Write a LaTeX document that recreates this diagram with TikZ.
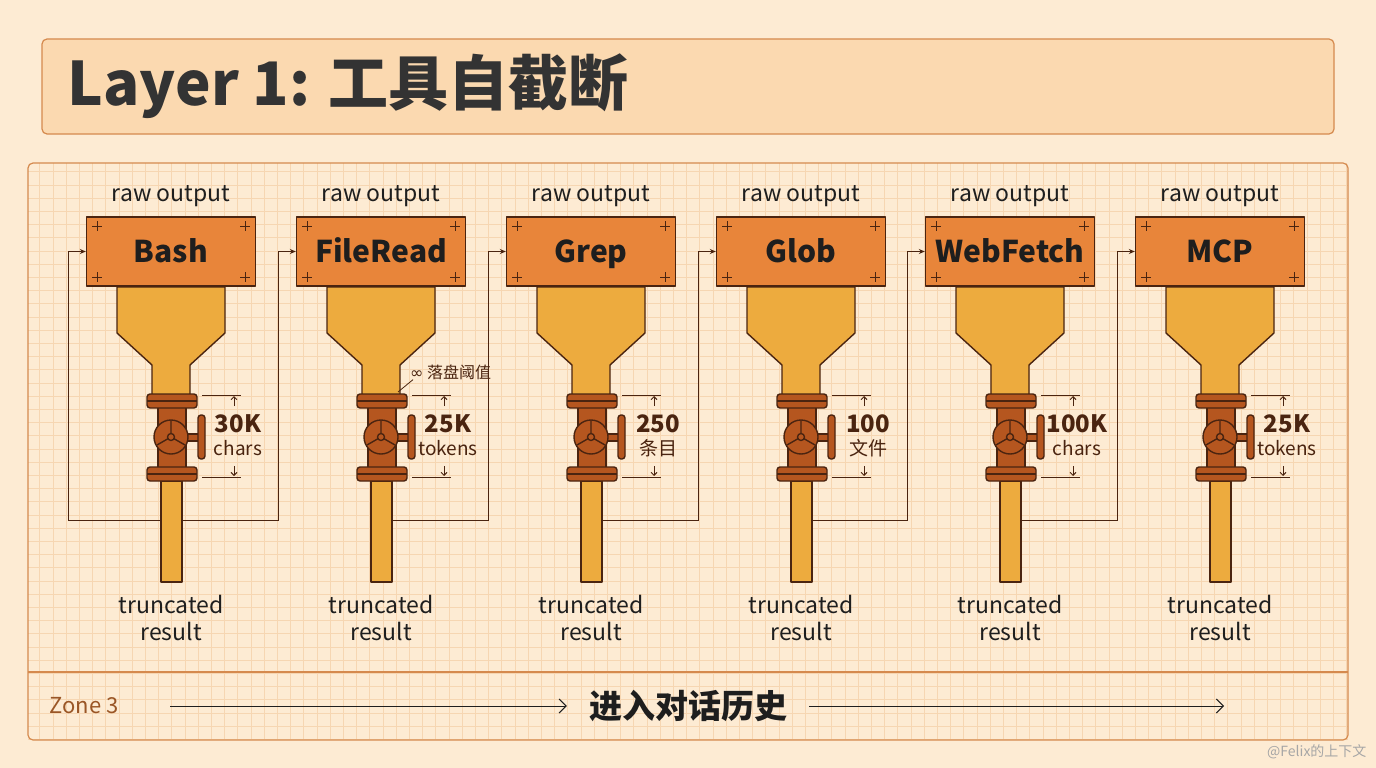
\documentclass[tikz,border=0pt]{standalone}
\usepackage{fontspec}
\setmainfont{Noto Sans CJK SC}
\newfontfamily\dv{DejaVu Sans}
\usetikzlibrary{arrows.meta}
\definecolor{bg}{HTML}{FDEBD3}
\definecolor{gridc}{HTML}{F6D6B2}
\definecolor{frame}{HTML}{D58A4E}
\definecolor{titlebg}{HTML}{FBD9B0}
\definecolor{boxc}{HTML}{E8853A}
\definecolor{funnel}{HTML}{EDAB3E}
\definecolor{valve}{HTML}{B5561F}
\definecolor{ink}{HTML}{4A2410}
\definecolor{txt}{HTML}{1E1E1E}
\definecolor{titletxt}{HTML}{333333}
\definecolor{zone}{HTML}{9A5626}
\tikzset{
 x=1pt,y=-1pt,
 part/.style={draw=ink,line width=1.4pt,line join=round},
 tool/.style={part,fill=boxc,minimum width=169pt,minimum height=69pt,inner sep=0pt,text height=21pt,text depth=0pt,font=\bfseries\fontsize{30}{30}\selectfont,text=txt},
 conn/.style={draw=ink,line width=1pt,-{Stealth[length=6pt,width=5pt]}},
 dim/.style={draw=ink,line width=0.9pt},
 lbl/.style={font=\fontsize{23}{23}\selectfont,text=txt,inner sep=0pt},
 num/.style={font=\bfseries\fontsize{24}{24}\selectfont,text=ink,inner sep=0pt},
 unt/.style={font=\fontsize{19}{19}\selectfont,text=ink,inner sep=0pt},
}
\newcommand\tunit[5]{%
\begin{scope}[xshift=#1pt]
 \node[lbl] (r#2) at (0,196) {raw output};
 \node[lbl] (t#2) at (0,604) {truncated};
 \node[lbl] (u#2) at (0,631) {result};
 \node[tool] (b#2) at (0,251.5) {#3};
 \foreach \sx/\sy in {-74/226,74/226,-74/277,74/277}{\draw[ink,line width=0.7pt] (\sx-5,\sy)--(\sx+5,\sy) (\sx,\sy-5)--(\sx,\sy+5);}
 \coordinate (p#2) at (0,520);
 \coordinate (j#2) at (-103,520);
\end{scope}}
\newcommand\tbody[5]{%
\begin{scope}[xshift=#1pt]
 \draw[part,fill=funnel] (-54,287)--(54,287)--(54,333)--(19,365)--(19,395)--(-19,395)--(-19,365)--(-54,333)--cycle;
 \draw[part,fill=funnel] (-10,481) rectangle (11,582);
 \draw[part,fill=valve] (-13,406) rectangle (15,470);
 \draw[part,fill=valve,rounded corners=3pt] (-24,394) rectangle (26,408);
 \draw[part] (-24,401)--(26,401);
 \draw[part,fill=valve,rounded corners=3pt] (-24,467) rectangle (26,481);
 \draw[part] (-24,474)--(26,474);
 \draw[part,fill=valve] (15,434) rectangle (28,441);
 \draw[part,fill=valve,rounded corners=3pt] (27,415) rectangle (34,459);
 \draw[part,fill=valve] (0,437) circle (17);
 \draw[part] (0,437)--(0,421) (0,437)--(-14,445) (0,437)--(14,445);
 \draw[part,fill=valve] (0,437) circle (3.5);
 \draw[dim] (31,395)--(70,395) (31,477)--(70,477);
 \draw[dim,-{Straight Barb[length=3pt]}] (63,406)--(63,396);
 \draw[dim,-{Straight Barb[length=3pt]}] (63,466)--(63,476);
 \node[num] at (67,424) {#4};
 \node[unt] at (67,448) {#5};
\end{scope}}
\begin{document}
\begin{tikzpicture}
\fill[bg] (0,0) rectangle (1376,768);
\useasboundingbox (0,0) rectangle (1376,768);
\begin{scope}
\clip (28,163) rectangle (1348,740);
\draw[gridc,line width=0.6pt] (28,163) grid[step=13.2pt] (1348,740);
\end{scope}
\draw[frame,line width=1.2pt,fill=titlebg,rounded corners=5pt] (42,39) rectangle (1334,134);
\node[anchor=west,font=\bfseries\fontsize{60}{60}\selectfont,text=titletxt] (title) at (64,86) {Layer 1: 工具自截断};
\draw[frame,line width=1.2pt,rounded corners=5pt] (28,163) rectangle (1348,740);
\draw[frame,line width=1.2pt] (28,672)--(1348,672);
\tunit{171}{A}{Bash}{30K}{chars}
\tunit{381}{B}{FileRead}{25K}{tokens}
\tunit{591}{C}{Grep}{250}{条目}
\tunit{801}{D}{Glob}{100}{文件}
\tunit{1010}{E}{WebFetch}{100K}{chars}
\tunit{1220}{F}{MCP}{25K}{tokens}
\coordinate (lA) at (68,520);
\draw[conn] (pA)--(lA)|-(bA.west);
\draw[conn] (pA)--(jB)|-(bB.west);
\draw[conn] (pB)--(jC)|-(bC.west);
\draw[conn] (pC)--(jD)|-(bD.west);
\draw[conn] (pD)--(jE)|-(bE.west);
\draw[conn] (pE)--(jF)|-(bF.west);
\tbody{171}{A}{Bash}{30K}{chars}
\tbody{381}{B}{FileRead}{25K}{tokens}
\tbody{591}{C}{Grep}{250}{条目}
\tbody{801}{D}{Glob}{100}{文件}
\tbody{1010}{E}{WebFetch}{100K}{chars}
\tbody{1220}{F}{MCP}{25K}{tokens}
\node[anchor=west,inner sep=0pt,font=\fontsize{16}{16}\selectfont,text=ink] (ann) at (410,372) {{\dv ∞} 落盘阈值};
\draw[ink,line width=0.8pt] (ann.south west)+(3,0) -- (398,392);
\node[anchor=west,font=\fontsize{22}{22}\selectfont,text=zone] (z3) at (46,706) {Zone 3};
\node[font=\bfseries\fontsize{33}{33}\selectfont,text=txt,inner xsep=22pt] (hist) at (688,706) {进入对话历史};
\coordinate (za) at (170,706);
\coordinate (zb) at (1224,706);
\draw[txt,line width=1pt,-{Straight Barb[length=7pt]}] (za)--(hist.west);
\draw[txt,line width=1pt,-{Straight Barb[length=7pt]}] (hist.east)--(zb);
\node[anchor=east,font=\fontsize{14}{14}\selectfont,text=gray!70] (wm) at (1370,752) {@Felix的上下文};
\end{tikzpicture}
\end{document}
